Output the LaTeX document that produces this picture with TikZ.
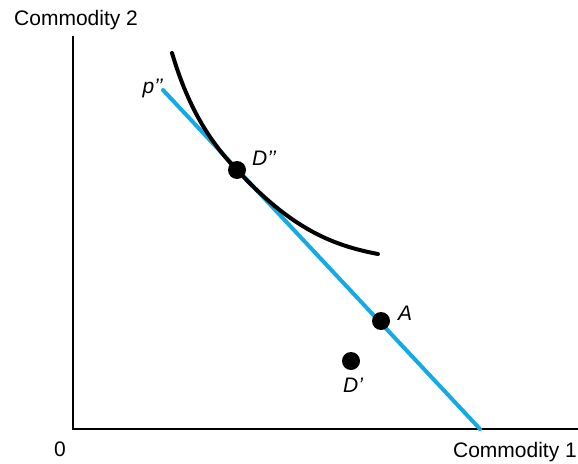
\documentclass[tikz,border=0pt]{standalone}
\usepackage{fontspec}
\setmainfont{Liberation Sans}
\definecolor{lineblue}{RGB}{20,170,230}
\begin{document}
\begin{tikzpicture}[x=1pt,y=-1pt,
  lbl/.style={font=\fontsize{21}{24}\selectfont, inner sep=0pt},
  ilbl/.style={font=\fontsize{21}{24}\selectfont\itshape, inner sep=0pt},
  dot/.style={circle, fill=black, minimum size=18pt, inner sep=0pt},
  axis/.style={line width=1.3pt, black},
  budget/.style={line width=4pt, lineblue, line cap=round},
  indiff/.style={line width=4pt, black, line cap=round}]
\useasboundingbox (0,0) rectangle (578,463);
% axes
\coordinate (ytop) at (73,36);
\coordinate (orig) at (73,429);
\coordinate (xend) at (578,429);
\draw[axis] (ytop) -- (orig) -- (xend);
\node[lbl, anchor=west] (c2) at (14,20) {Commodity 2};
\node[lbl, anchor=east] (c1) at (577,452) {Commodity 1};
\node[lbl] (zero) at (60,449) {0};
% budget line
\coordinate (b1) at (163,90);
\coordinate (b2) at (480,429);
\draw[budget] (b1) -- (b2);
% indifference curve
\coordinate (i1) at (172,53);
\coordinate (i2) at (378,254);
\draw[indiff] (i1) .. controls (186,100) and (205,137) .. (237,170)
  .. controls (290,227) and (330,245) .. (i2);
% points
\node[dot] (Dpp) at (237,170) {};
\node[dot] (A) at (381,321) {};
\node[dot] (Dp) at (351,361) {};
\node[ilbl, anchor=east] (lp) at (163,88) {p’’};
\node[ilbl, anchor=west] (lDpp) at (252,158) {D’’};
\node[ilbl, anchor=west] (lA) at (398,313) {A};
\node[ilbl] (lDp) at (353,385) {D’};
\end{tikzpicture}
\end{document}
